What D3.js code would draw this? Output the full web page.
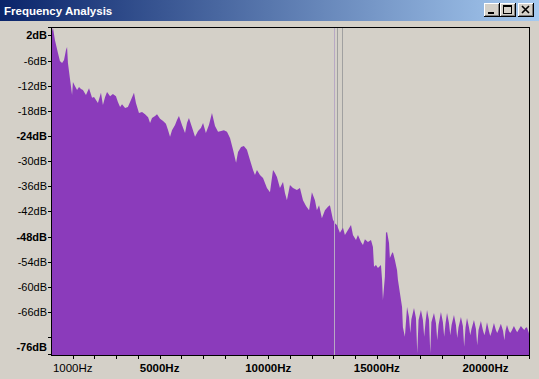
<!DOCTYPE html>
<html><head><meta charset="utf-8">
<script src="https://cdn.jsdelivr.net/npm/d3@7"></script>
<style>
html,body{margin:0;padding:0;background:#D4D0C8;overflow:hidden;}
svg{display:block;}
</style></head><body>
<svg id="c" width="539" height="379"></svg>
<script>
// ---- data ----
const titleText = "Frequency Analysis";
const freqKHz = [
 0.00,0.09,0.18,0.32,0.41,0.51,0.60,0.69,0.74,0.78,0.87,0.97,1.01,1.10,1.20,1.29,1.38,1.47,1.61,1.75,
 1.89,1.98,2.07,2.16,2.30,2.39,2.49,2.58,2.72,2.85,2.99,3.08,3.18,3.27,3.41,3.54,3.68,3.82,3.91,4.05,
 4.19,4.33,4.47,4.56,4.65,4.79,4.88,5.02,5.16,5.29,5.39,5.48,5.57,5.71,5.80,5.89,6.03,6.17,6.26,6.35,
 6.49,6.63,6.77,6.90,7.00,7.13,7.27,7.41,7.55,7.69,7.83,7.96,8.10,8.24,8.38,8.52,8.61,8.75,8.88,9.02,
 9.16,9.30,9.39,9.48,9.62,9.76,9.85,9.94,10.08,10.22,10.31,10.40,10.54,10.68,10.77,10.86,11.00,11.14,11.32,11.46,
 11.60,11.74,11.88,12.01,12.15,12.24,12.34,12.47,12.61,12.75,12.84,12.98,13.07,13.16,13.30,13.44,13.53,13.67,13.81,13.90,
 14.04,14.13,14.27,14.36,14.45,14.59,14.73,14.82,14.87,14.96,15.05,15.19,15.24,15.28,15.37,15.42,15.47,15.56,15.60,15.70,
 15.74,15.83,15.93,15.97,16.06,16.16,16.20,16.29,
 16.39,16.48,16.54,16.59, 16.71,16.80,16.86,16.92, 17.03,17.12,17.18,17.24, 17.31,17.40,17.46,17.51,
 17.63,17.72,17.78,17.84, 17.95,18.04,18.10,18.16, 18.23,18.32,18.38,18.44, 18.55,18.64,18.70,18.76,
 18.87,18.96,19.02,19.08, 19.15,19.24,19.30,19.36, 19.47,19.56,19.62,19.68, 19.79,19.88,19.95,20.00,
 20.07,20.16,20.22,20.28, 20.39,20.48,20.54,20.60, 20.71,20.81,20.87,20.92, 20.99,21.08,21.14,21.20,
 21.31,21.40,21.46,21.52, 21.63,21.73,21.79,21.84, 21.91,22.00,22.05
];
const levelDb = [
 0.1,1.8,-1.1,-4.2,-6.1,-6.6,-5.9,-3.5,-2.8,-6.6,-10.2,-14.2,-11.1,-12.1,-13.0,-12.3,-12.8,-13.0,-14.2,-12.6,
 -14.9,-14.7,-15.4,-16.1,-13.7,-16.6,-14.7,-13.5,-14.5,-14.0,-14.5,-15.9,-17.1,-16.4,-17.3,-17.1,-15.4,-13.7,-16.1,-18.5,
 -18.3,-18.8,-19.5,-20.9,-19.7,-19.2,-18.8,-19.9,-20.4,-21.1,-22.6,-24.2,-22.6,-21.4,-20.2,-19.2,-21.4,-23.3,-20.9,-19.7,
 -21.9,-24.2,-22.8,-22.1,-20.9,-23.3,-21.4,-18.5,-21.6,-23.0,-22.8,-22.6,-23.0,-24.5,-27.3,-30.4,-27.8,-26.6,-26.4,-27.3,
 -29.7,-32.1,-33.3,-32.1,-33.3,-34.0,-35.2,-36.4,-37.4,-32.1,-32.8,-33.8,-36.4,-35.0,-37.6,-39.3,-35.7,-36.4,-36.9,-36.4,
 -39.3,-40.7,-41.7,-37.4,-39.3,-41.7,-40.5,-43.6,-41.7,-40.9,-40.5,-44.0,-44.8,-45.2,-47.1,-45.9,-47.6,-46.4,-45.2,-47.6,
 -48.8,-47.6,-49.3,-50.0,-48.6,-49.3,-48.8,-50.5,-55.2,-54.8,-55.5,-54.8,-58.3,-63.1,-57.6,-47.1,-46.9,-49.5,-53.1,-51.9,
 -51.7,-53.6,-56.0,-58.3,-61.4,-64.8,-69.6,-71.9,
 -64.8,-67.2,-71.0,-67.7, -65.0,-67.4,-75.8,-67.9, -65.5,-67.9,-71.9,-68.4, -65.5,-67.9,-75.8,-68.4,
 -66.2,-68.6,-72.7,-69.1, -66.0,-68.4,-71.9,-68.8, -66.2,-68.6,-71.5,-69.1, -66.7,-69.1,-72.2,-69.6,
 -67.2,-69.3,-74.3,-69.8, -67.4,-69.6,-71.5,-70.0, -67.9,-70.0,-73.9,-70.3, -68.1,-70.3,-71.5,-70.5,
 -68.4,-70.5,-71.7,-70.8, -68.6,-70.3,-71.0,-70.3, -68.8,-70.5,-72.7,-70.5, -69.1,-70.5,-71.0,-70.5,
 -69.3,-70.3,-70.8,-70.3, -69.3,-70.0,-70.3,-69.8, -69.6,-71.0,-74.3
];
const markerKHz = [13.03, 13.16, 13.39];
const freqDomainKHz = [0, 22.05];
const dbDomain = [2, -76];
const xTickKHz = [1,2,3,4,5,6,7,8,9,10,11,12,13,14,15,16,17,18,19,20,21,22];
const xLabelKHz = [1, 5, 10, 15, 20];
const xLabelText = ["1000Hz", "5000Hz", "10000Hz", "15000Hz", "20000Hz"];
const xLabelBold = [false, true, true, true, true];
const yTickDb = [2,0,-6,-12,-18,-24,-30,-36,-42,-48,-54,-60,-66,-72,-76];
const yLabelDb = [2,-6,-12,-18,-24,-30,-36,-42,-48,-54,-60,-66,-76];
const yLabelText = ["2dB","-6dB","-12dB","-18dB","-24dB","-30dB","-36dB","-42dB","-48dB","-54dB","-60dB","-66dB","-76dB"];
const yLabelBold = [true,false,false,false,true,false,false,false,true,false,false,false,true];

// ---- drawing ----
const svg = d3.select("#c");
const W = 539, H = 379;
const plot = {left: 51, right: 530, top: 27, bottom: 354};
const font = "'Liberation Sans', Arial, sans-serif";

svg.append("rect").attr("width", W).attr("height", H).attr("fill", "#D4D0C8");

// title bar
const defs = svg.append("defs");
const g = defs.append("linearGradient").attr("id", "tb").attr("x1", 0).attr("x2", 1).attr("y1", 0).attr("y2", 0);
g.append("stop").attr("offset", "0%").attr("stop-color", "#0A246A");
g.append("stop").attr("offset", "100%").attr("stop-color", "#A6CAF0");
svg.append("rect").attr("x", 0).attr("y", 0).attr("width", W).attr("height", 21).attr("fill", "url(#tb)");
svg.append("text").attr("x", 4).attr("y", 15).attr("fill", "#fff")
  .attr("font-family", font).attr("font-weight", "bold").attr("font-size", 11.5)
  .text(titleText);

// caption buttons
const btnX = [484, 500, 518];
btnX.forEach((bx, i) => {
  const bg = svg.append("g").attr("transform", `translate(${bx},3)`);
  bg.append("rect").attr("width", 16).attr("height", 14).attr("fill", "#000");
  bg.append("rect").attr("width", 15).attr("height", 13).attr("fill", "#fff");
  bg.append("rect").attr("x", 1).attr("y", 1).attr("width", 14).attr("height", 12).attr("fill", "#808080");
  bg.append("rect").attr("x", 1).attr("y", 1).attr("width", 13).attr("height", 11).attr("fill", "#D4D0C8");
  if (i === 0) {
    bg.append("rect").attr("x", 4).attr("y", 9).attr("width", 6).attr("height", 2).attr("fill", "#000");
  } else if (i === 1) {
    bg.append("rect").attr("x", 3.5).attr("y", 2.5).attr("width", 8).attr("height", 8)
      .attr("fill", "none").attr("stroke", "#000").attr("stroke-width", 1);
    bg.append("rect").attr("x", 3).attr("y", 3).attr("width", 9).attr("height", 1).attr("fill", "#000");
  } else {
    bg.append("path").attr("d", "M4,3 L11,10 M11,3 L4,10").attr("stroke", "#000").attr("stroke-width", 1.6);
  }
});

const x = d3.scaleLinear().domain(freqDomainKHz).range([plot.left, plot.right]);
const y = d3.scaleLinear().domain(dbDomain).range([plot.top, plot.bottom]);

// plot background
svg.append("rect").attr("x", plot.left).attr("y", plot.top)
  .attr("width", plot.right - plot.left).attr("height", plot.bottom - plot.top + 1).attr("fill", "#D4D0C8");

// marker lines behind
markerKHz.forEach((m, i) => {
  svg.append("line").attr("x1", Math.round(x(m)) + 0.5).attr("x2", Math.round(x(m)) + 0.5)
    .attr("y1", plot.top).attr("y2", plot.bottom + 1)
    .attr("stroke", "#A0A0A0").attr("stroke-width", 1);
});

const data = freqKHz.map((f, i) => ({f, db: levelDb[i]}));
const area = d3.area().x(d => x(d.f)).y0(y(dbDomain[1]) + 1).y1(d => y(d.db));
svg.append("path").datum(data).attr("d", area).attr("fill", "#8B3BBB");

// first marker line shows over fill
svg.append("line").attr("x1", Math.round(x(markerKHz[0])) + 0.5).attr("x2", Math.round(x(markerKHz[0])) + 0.5)
  .attr("y1", plot.top).attr("y2", plot.bottom + 1)
  .attr("stroke", "#B8A8C4").attr("stroke-width", 1);

// frame
svg.append("rect").attr("x", plot.left + 0.5).attr("y", plot.top + 0.5)
  .attr("width", plot.right - plot.left - 1).attr("height", plot.bottom - plot.top + 1)
  .attr("fill", "none").attr("stroke", "#000");

// y ticks and labels
yTickDb.forEach(v => {
  const yy = Math.round(y(v)) + 0.5;
  svg.append("line").attr("x1", plot.left - 3).attr("x2", plot.left).attr("y1", yy).attr("y2", yy).attr("stroke", "#000");
});
yLabelDb.forEach((v, i) => {
  let yy = y(v);
  yy = Math.max(plot.top + 8, Math.min(plot.bottom - 7, yy));
  svg.append("text").attr("x", plot.left - 4).attr("y", yy + 4).attr("text-anchor", "end")
    .attr("font-family", font).attr("font-size", 11).attr("font-weight", yLabelBold[i] ? "bold" : "normal")
    .attr("fill", "#000").text(yLabelText[i]);
});

// x ticks and labels
const bottomY = plot.bottom + 1;
xTickKHz.forEach(v => {
  const xx = Math.round(x(v)) + 0.5;
  svg.append("line").attr("x1", xx).attr("x2", xx).attr("y1", bottomY).attr("y2", bottomY + 4).attr("stroke", "#000");
});
xLabelKHz.forEach((v, i) => {
  svg.append("text").attr("x", x(v)).attr("y", 372).attr("text-anchor", "middle")
    .attr("font-family", font).attr("font-size", 11.5).attr("font-weight", xLabelBold[i] ? "bold" : "normal")
    .attr("fill", "#000").text(xLabelText[i]);
});
</script>
</body></html>
